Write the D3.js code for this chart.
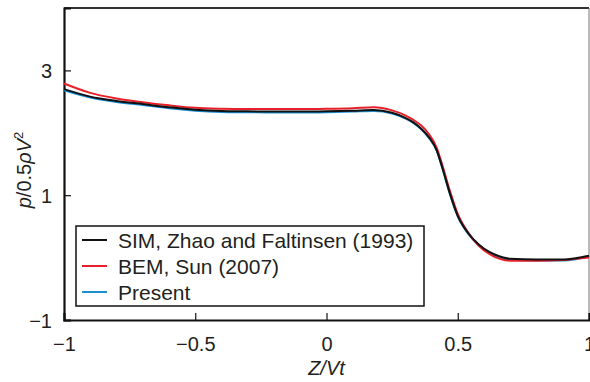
<!DOCTYPE html>
<html>
<head>
<meta charset="utf-8">
<script src="https://cdn.jsdelivr.net/npm/d3@7"></script>
<style>
  body { margin: 0; background: #fff; }
  svg text { font-family: "Liberation Sans", Arial, sans-serif; fill: #231f20; }
</style>
</head>
<body>
<svg id="chart" width="590" height="382"></svg>
<script>
// values
var zs = [-1, -0.9, -0.8, -0.7, -0.6, -0.5, -0.4, -0.3, -0.2, -0.1, 0, 0.1, 0.18, 0.25, 0.3, 0.33, 0.36, 0.39, 0.42, 0.44, 0.47, 0.5, 0.54, 0.58, 0.62, 0.66, 0.7, 0.8, 0.9, 0.95, 1];
var simVals = [2.70, 2.58, 2.51, 2.46, 2.41, 2.37, 2.35, 2.345, 2.34, 2.34, 2.345, 2.355, 2.365, 2.32, 2.24, 2.17, 2.07, 1.93, 1.72, 1.46, 1.03, 0.67, 0.39, 0.21, 0.09, 0.02, -0.02, -0.03, -0.03, -0.01, 0.03];
var bemVals = [2.79, 2.64, 2.55, 2.49, 2.44, 2.40, 2.385, 2.38, 2.38, 2.38, 2.385, 2.395, 2.41, 2.36, 2.28, 2.21, 2.12, 1.98, 1.76, 1.50, 1.07, 0.70, 0.40, 0.19, 0.06, -0.02, -0.05, -0.05, -0.04, -0.02, 0.0];
var presentVals = [2.68, 2.565, 2.495, 2.445, 2.395, 2.355, 2.335, 2.33, 2.325, 2.325, 2.33, 2.34, 2.35, 2.31, 2.23, 2.16, 2.06, 1.92, 1.71, 1.45, 1.02, 0.66, 0.38, 0.20, 0.08, 0.0, -0.035, -0.045, -0.045, -0.025, 0.02];
var xTicks = [-1, -0.5, 0, 0.5, 1];
var yTicks = [-1, 1, 3];
var seriesNames = ["SIM, Zhao and Faltinsen (1993)", "BEM, Sun (2007)", "Present"];
var seriesColors = ["#111111", "#e8202a", "#1b8fd2"];

var svg = d3.select("#chart"),
    margin = {top: 8, right: 1, bottom: 62, left: 64},
    width = +svg.attr("width") - margin.left - margin.right,
    height = +svg.attr("height") - margin.top - margin.bottom,
    g = svg.append("g").attr("transform", "translate(" + margin.left + "," + margin.top + ")");

var x = d3.scaleLinear().domain([-1, 1]).range([0, width]);
var y = d3.scaleLinear().domain([-1, 4]).range([height, 0]);

var fmt = function(d) { return d < 0 ? "\u2212" + Math.abs(d) : String(d); };

// frame: top and right
g.append("line").attr("x1", 0).attr("x2", width).attr("y1", 0).attr("y2", 0)
    .attr("stroke", "#333").attr("stroke-width", 2);
g.append("line").attr("x1", width).attr("x2", width).attr("y1", 0).attr("y2", height)
    .attr("stroke", "#777").attr("stroke-width", 1);

var xAxis = g.append("g")
    .attr("transform", "translate(0," + height + ")")
    .call(d3.axisBottom(x).tickValues(xTicks).tickSize(-7).tickPadding(17).tickFormat(fmt));
var yAxis = g.append("g")
    .call(d3.axisLeft(y).tickValues(yTicks).tickSize(-7).tickPadding(12).tickFormat(fmt));

[xAxis, yAxis].forEach(function(ax) {
  ax.select(".domain").attr("stroke", "#111").attr("stroke-width", 2.2);
  ax.selectAll(".tick line").attr("stroke", "#111").attr("stroke-width", 1.2);
  ax.selectAll(".tick text").attr("font-size", 20).attr("fill", "#231f20")
    .attr("font-family", "Liberation Sans, Arial, sans-serif");
});
yAxis.selectAll(".tick text").attr("dy", "0.36em");

// curves
var line = d3.line()
    .x(function(d, i) { return x(zs[i]); })
    .y(function(d) { return y(d); })
    .curve(d3.curveMonotoneX);

[[presentVals, 2], [bemVals, 1], [simVals, 0]].forEach(function(s) {
  g.append("path")
      .datum(s[0])
      .attr("fill", "none")
      .attr("stroke", seriesColors[s[1]])
      .attr("stroke-width", 2)
      .attr("d", line);
});

// legend
var leg = g.append("g").attr("transform", "translate(12,218)");
leg.append("rect").attr("width", 348).attr("height", 80)
    .attr("fill", "#fff").attr("stroke", "#111").attr("stroke-width", 1.5);
seriesNames.forEach(function(name, i) {
  var yy = 14 + i * 26;
  leg.append("line").attr("x1", 6).attr("x2", 31).attr("y1", yy).attr("y2", yy)
      .attr("stroke", seriesColors[i]).attr("stroke-width", 2);
  leg.append("text").attr("x", 42).attr("y", yy).attr("dy", "0.36em")
      .attr("font-size", 21).text(name);
});

// axis titles
svg.append("text")
    .attr("x", margin.left + x(0)).attr("y", 375)
    .attr("text-anchor", "middle").attr("font-size", 20).attr("font-style", "italic")
    .text("Z/Vt");

var yl = svg.append("text")
    .attr("transform", "translate(31,170) rotate(-90)")
    .attr("text-anchor", "middle").attr("font-size", 20);
yl.append("tspan").attr("font-style", "italic").text("p");
yl.append("tspan").text("/0.5");
yl.append("tspan").attr("font-style", "italic").text("\u03c1V");
yl.append("tspan").attr("font-size", 13).attr("dy", -8).text("2");
</script>
</body>
</html>
